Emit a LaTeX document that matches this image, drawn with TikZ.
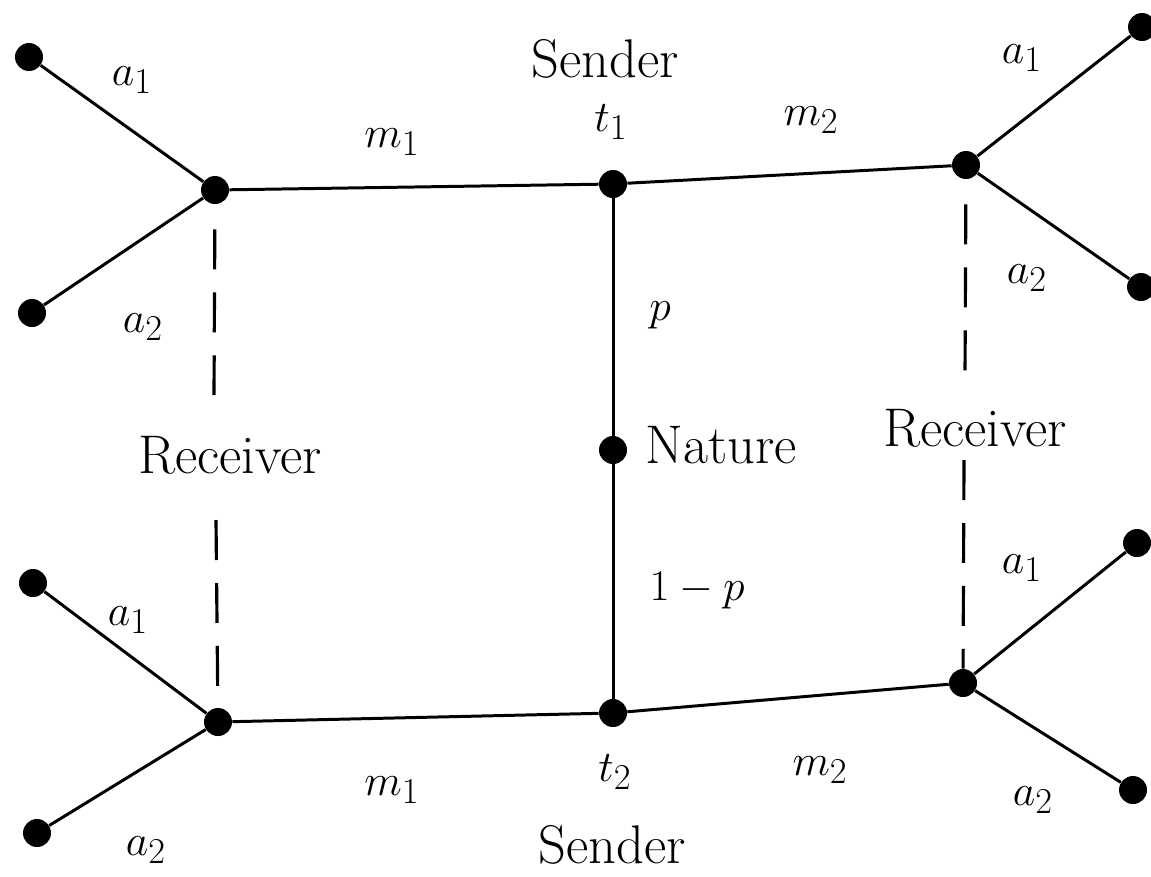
\documentclass[tikz,border=0pt]{standalone}
\usepackage{amsmath}
\usepackage{tikz}
\usetikzlibrary{positioning}

\begin{document}
\begin{tikzpicture}[
        x=0.02cm, y=-0.02cm,
        dot/.style={circle, fill=black, inner sep=0pt, minimum size=0.56cm},
        lbl/.style={inner sep=0pt, font=\fontsize{31}{36}\selectfont},
        branch/.style={line width=1.7pt},
        infoset/.style={line width=1.8pt, dash pattern=on 0.8cm off 0.46cm},
    ]
    \useasboundingbox (0,0) rectangle (1151,876);

    %--- Nature and Sender ---
    \node[dot] (nat) at (613,450) {};
    \node[dot] (t1)  at (613,184) {};
    \node[dot] (t2)  at (613,713) {};

    \draw[branch] (nat) -- (t1);
    \draw[branch] (nat) -- (t2);

    %--- Receiver, top ---
    \node[dot] (rTL)  at (215,190)  {};
    \node[dot] (rTR)  at (966,165)  {};
    \node[dot] (lTL1) at (29,57)    {};
    \node[dot] (lTL2) at (32,313)   {};
    \node[dot] (lTR1) at (1142,27)  {};
    \node[dot] (lTR2) at (1141,287) {};

    \draw[branch] (t1)  -- (rTL);
    \draw[branch] (t1)  -- (rTR);
    \draw[branch] (rTL) -- (lTL1);
    \draw[branch] (rTL) -- (lTL2);
    \draw[branch] (rTR) -- (lTR1);
    \draw[branch] (rTR) -- (lTR2);

    %--- Receiver, bottom ---
    \node[dot] (rBL)  at (218,722)  {};
    \node[dot] (rBR)  at (963,683)  {};
    \node[dot] (lBL1) at (33,583)   {};
    \node[dot] (lBL2) at (37,833)   {};
    \node[dot] (lBR1) at (1137,543) {};
    \node[dot] (lBR2) at (1133,790) {};

    \draw[branch] (t2)  -- (rBL);
    \draw[branch] (t2)  -- (rBR);
    \draw[branch] (rBL) -- (lBL1);
    \draw[branch] (rBL) -- (lBL2);
    \draw[branch] (rBR) -- (lBR1);
    \draw[branch] (rBR) -- (lBR2);

    %--- information sets ---
    \coordinate (gapL1) at (214,395);
    \coordinate (gapL2) at (216,520);
    \coordinate (gapR1) at (965,375);
    \coordinate (gapR2) at (964,460);
    \draw[infoset, shorten <=0.5cm] (rTL) -- (gapL1);
    \draw[infoset] (gapL2) -- (rBL);
    \draw[infoset, shorten <=0.5cm] (rTR) -- (gapR1);
    \draw[infoset] (gapR2) -- (rBR);

    %--- labels ---
    \node[lbl, anchor=base] (sendT) at (605,77)  {Sender};
    \node[lbl, anchor=base] (sendB) at (612,863) {Sender};
    \node[lbl, anchor=base] (recvL) at (230,473) {Receiver};
    \node[lbl, anchor=base] (recvR) at (975,446) {Receiver};
    \node[lbl, anchor=base west] (natL) at (645,463) {Nature};
    \node[lbl] (pT)  at (660,315) {$p$};
    \node[lbl, anchor=base] (pB) at (697,600) {$1-p$};

    \node[lbl] (t1L) at (611,122) {$t_1$};
    \node[lbl] (t2L) at (615,772) {$t_2$};
    \node[lbl] (m1T) at (392,142) {$m_1$};
    \node[lbl] (m2T) at (811,120) {$m_2$};
    \node[lbl] (m1B) at (392,790) {$m_1$};
    \node[lbl] (m2B) at (820,770) {$m_2$};

    \node[lbl] (aTL1) at (132,80)   {$a_1$};
    \node[lbl] (aTL2) at (143,327)  {$a_2$};
    \node[lbl] (aTR1) at (1022,58)  {$a_1$};
    \node[lbl] (aTR2) at (1027,278) {$a_2$};
    \node[lbl] (aBL1) at (128,620)  {$a_1$};
    \node[lbl] (aBL2) at (146,850)  {$a_2$};
    \node[lbl] (aBR1) at (1022,568) {$a_1$};
    \node[lbl] (aBR2) at (1033,800) {$a_2$};
\end{tikzpicture}
\end{document}
